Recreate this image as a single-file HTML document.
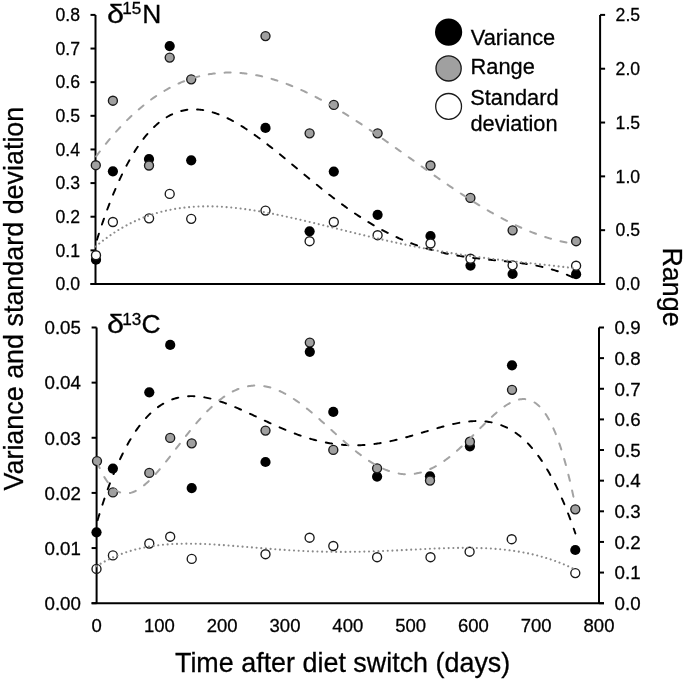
<!DOCTYPE html>
<html><head><meta charset="utf-8"><style>
html,body{margin:0;padding:0;background:#fff;}
body{width:685px;height:682px;overflow:hidden;}
svg{display:block;filter:grayscale(1);font-family:"Liberation Sans",sans-serif;fill:#000;}
svg text{fill:#000;stroke:#000;stroke-width:0.28px;}
</style></head><body>
<svg width="685" height="682" viewBox="0 0 685 682">
<rect width="685" height="682" fill="#fff"/>
<path d="M95.5,14.9 V284.0 M600.1,14.9 V284.0 M90.5,284.0 H605.1" stroke="#000" stroke-width="2" fill="none"/>
<path d="M90.5,284.00 H95.5" stroke="#000" stroke-width="2"/>
<text transform="translate(80.0,290.29) scale(1,1.0)" text-anchor="end" font-size="17.6">0.0</text>
<path d="M90.5,250.36 H95.5" stroke="#000" stroke-width="2"/>
<text transform="translate(80.0,256.65) scale(1,1.0)" text-anchor="end" font-size="17.6">0.1</text>
<path d="M90.5,216.72 H95.5" stroke="#000" stroke-width="2"/>
<text transform="translate(80.0,223.02) scale(1,1.0)" text-anchor="end" font-size="17.6">0.2</text>
<path d="M90.5,183.09 H95.5" stroke="#000" stroke-width="2"/>
<text transform="translate(80.0,189.38) scale(1,1.0)" text-anchor="end" font-size="17.6">0.3</text>
<path d="M90.5,149.45 H95.5" stroke="#000" stroke-width="2"/>
<text transform="translate(80.0,155.74) scale(1,1.0)" text-anchor="end" font-size="17.6">0.4</text>
<path d="M90.5,115.81 H95.5" stroke="#000" stroke-width="2"/>
<text transform="translate(80.0,122.10) scale(1,1.0)" text-anchor="end" font-size="17.6">0.5</text>
<path d="M90.5,82.17 H95.5" stroke="#000" stroke-width="2"/>
<text transform="translate(80.0,88.47) scale(1,1.0)" text-anchor="end" font-size="17.6">0.6</text>
<path d="M90.5,48.54 H95.5" stroke="#000" stroke-width="2"/>
<text transform="translate(80.0,54.83) scale(1,1.0)" text-anchor="end" font-size="17.6">0.7</text>
<path d="M90.5,14.90 H95.5" stroke="#000" stroke-width="2"/>
<text transform="translate(80.0,21.19) scale(1,1.0)" text-anchor="end" font-size="17.6">0.8</text>
<path d="M600.1,284.00 H605.1" stroke="#000" stroke-width="2"/>
<text transform="translate(615.6,290.29) scale(1,1.0)" font-size="17.6">0.0</text>
<path d="M600.1,230.18 H605.1" stroke="#000" stroke-width="2"/>
<text transform="translate(615.6,236.47) scale(1,1.0)" font-size="17.6">0.5</text>
<path d="M600.1,176.36 H605.1" stroke="#000" stroke-width="2"/>
<text transform="translate(615.6,182.65) scale(1,1.0)" font-size="17.6">1.0</text>
<path d="M600.1,122.54 H605.1" stroke="#000" stroke-width="2"/>
<text transform="translate(615.6,128.83) scale(1,1.0)" font-size="17.6">1.5</text>
<path d="M600.1,68.72 H605.1" stroke="#000" stroke-width="2"/>
<text transform="translate(615.6,75.01) scale(1,1.0)" font-size="17.6">2.0</text>
<path d="M600.1,14.90 H605.1" stroke="#000" stroke-width="2"/>
<text transform="translate(615.6,21.19) scale(1,1.0)" font-size="17.6">2.5</text>
<path d="M96.6,327.5 V603.2 M599.0,327.5 V603.2 M91.6,603.2 H604.0" stroke="#000" stroke-width="2" fill="none"/>
<path d="M91.6,603.20 H96.6" stroke="#000" stroke-width="2"/>
<text transform="translate(80.9,610.02) scale(1,1.02)" text-anchor="end" font-size="18.7">0.00</text>
<path d="M91.6,548.06 H96.6" stroke="#000" stroke-width="2"/>
<text transform="translate(80.9,554.88) scale(1,1.02)" text-anchor="end" font-size="18.7">0.01</text>
<path d="M91.6,492.92 H96.6" stroke="#000" stroke-width="2"/>
<text transform="translate(80.9,499.74) scale(1,1.02)" text-anchor="end" font-size="18.7">0.02</text>
<path d="M91.6,437.78 H96.6" stroke="#000" stroke-width="2"/>
<text transform="translate(80.9,444.60) scale(1,1.02)" text-anchor="end" font-size="18.7">0.03</text>
<path d="M91.6,382.64 H96.6" stroke="#000" stroke-width="2"/>
<text transform="translate(80.9,389.46) scale(1,1.02)" text-anchor="end" font-size="18.7">0.04</text>
<path d="M91.6,327.50 H96.6" stroke="#000" stroke-width="2"/>
<text transform="translate(80.9,334.32) scale(1,1.02)" text-anchor="end" font-size="18.7">0.05</text>
<path d="M599.0,603.20 H604.0" stroke="#000" stroke-width="2"/>
<text transform="translate(614.6,610.02) scale(1,1.02)" font-size="18.7">0.0</text>
<path d="M599.0,572.57 H604.0" stroke="#000" stroke-width="2"/>
<text transform="translate(614.6,579.39) scale(1,1.02)" font-size="18.7">0.1</text>
<path d="M599.0,541.93 H604.0" stroke="#000" stroke-width="2"/>
<text transform="translate(614.6,548.75) scale(1,1.02)" font-size="18.7">0.2</text>
<path d="M599.0,511.30 H604.0" stroke="#000" stroke-width="2"/>
<text transform="translate(614.6,518.12) scale(1,1.02)" font-size="18.7">0.3</text>
<path d="M599.0,480.67 H604.0" stroke="#000" stroke-width="2"/>
<text transform="translate(614.6,487.49) scale(1,1.02)" font-size="18.7">0.4</text>
<path d="M599.0,450.03 H604.0" stroke="#000" stroke-width="2"/>
<text transform="translate(614.6,456.85) scale(1,1.02)" font-size="18.7">0.5</text>
<path d="M599.0,419.40 H604.0" stroke="#000" stroke-width="2"/>
<text transform="translate(614.6,426.22) scale(1,1.02)" font-size="18.7">0.6</text>
<path d="M599.0,388.77 H604.0" stroke="#000" stroke-width="2"/>
<text transform="translate(614.6,395.59) scale(1,1.02)" font-size="18.7">0.7</text>
<path d="M599.0,358.13 H604.0" stroke="#000" stroke-width="2"/>
<text transform="translate(614.6,364.95) scale(1,1.02)" font-size="18.7">0.8</text>
<path d="M599.0,327.50 H604.0" stroke="#000" stroke-width="2"/>
<text transform="translate(614.6,334.32) scale(1,1.02)" font-size="18.7">0.9</text>
<text x="96.60" y="631.6" text-anchor="middle" font-size="18.5">0</text>
<text x="159.40" y="631.6" text-anchor="middle" font-size="18.5">100</text>
<text x="222.20" y="631.6" text-anchor="middle" font-size="18.5">200</text>
<text x="285.00" y="631.6" text-anchor="middle" font-size="18.5">300</text>
<text x="347.80" y="631.6" text-anchor="middle" font-size="18.5">400</text>
<text x="410.60" y="631.6" text-anchor="middle" font-size="18.5">500</text>
<text x="473.40" y="631.6" text-anchor="middle" font-size="18.5">600</text>
<text x="536.20" y="631.6" text-anchor="middle" font-size="18.5">700</text>
<text x="599.00" y="631.6" text-anchor="middle" font-size="18.5">800</text>
<circle cx="96" cy="259.7" r="5.1" fill="#000"/>
<circle cx="112.9" cy="171.3" r="5.1" fill="#000"/>
<circle cx="149.0" cy="159.1" r="5.1" fill="#000"/>
<circle cx="169.7" cy="46.1" r="5.1" fill="#000"/>
<circle cx="191.2" cy="160.3" r="5.1" fill="#000"/>
<circle cx="265.5" cy="127.9" r="5.1" fill="#000"/>
<circle cx="309.6" cy="231.3" r="5.1" fill="#000"/>
<circle cx="333.8" cy="171.6" r="5.1" fill="#000"/>
<circle cx="377.6" cy="214.8" r="5.1" fill="#000"/>
<circle cx="430.5" cy="236" r="5.1" fill="#000"/>
<circle cx="470.5" cy="265.6" r="5.1" fill="#000"/>
<circle cx="512.6" cy="274" r="5.1" fill="#000"/>
<circle cx="576.1" cy="274.2" r="5.1" fill="#000"/>
<circle cx="95.8" cy="165.2" r="4.5" fill="#a0a0a0" stroke="#1a1a1a" stroke-width="1.35"/>
<circle cx="112.9" cy="100.7" r="4.5" fill="#a0a0a0" stroke="#1a1a1a" stroke-width="1.35"/>
<circle cx="149.0" cy="165.5" r="4.5" fill="#a0a0a0" stroke="#1a1a1a" stroke-width="1.35"/>
<circle cx="169.7" cy="57.6" r="4.5" fill="#a0a0a0" stroke="#1a1a1a" stroke-width="1.35"/>
<circle cx="191.2" cy="79.3" r="4.5" fill="#a0a0a0" stroke="#1a1a1a" stroke-width="1.35"/>
<circle cx="265.5" cy="36.1" r="4.5" fill="#a0a0a0" stroke="#1a1a1a" stroke-width="1.35"/>
<circle cx="309.6" cy="133.3" r="4.5" fill="#a0a0a0" stroke="#1a1a1a" stroke-width="1.35"/>
<circle cx="333.8" cy="104.9" r="4.5" fill="#a0a0a0" stroke="#1a1a1a" stroke-width="1.35"/>
<circle cx="377.6" cy="133.3" r="4.5" fill="#a0a0a0" stroke="#1a1a1a" stroke-width="1.35"/>
<circle cx="430.5" cy="165.5" r="4.5" fill="#a0a0a0" stroke="#1a1a1a" stroke-width="1.35"/>
<circle cx="470.4" cy="197.9" r="4.5" fill="#a0a0a0" stroke="#1a1a1a" stroke-width="1.35"/>
<circle cx="512.6" cy="230.3" r="4.5" fill="#a0a0a0" stroke="#1a1a1a" stroke-width="1.35"/>
<circle cx="576.1" cy="241.2" r="4.5" fill="#a0a0a0" stroke="#1a1a1a" stroke-width="1.35"/>
<circle cx="96" cy="255.2" r="4.5" fill="#fff" stroke="#1a1a1a" stroke-width="1.35"/>
<circle cx="112.9" cy="222" r="4.5" fill="#fff" stroke="#1a1a1a" stroke-width="1.35"/>
<circle cx="149.1" cy="218.3" r="4.5" fill="#fff" stroke="#1a1a1a" stroke-width="1.35"/>
<circle cx="169.7" cy="193.9" r="4.5" fill="#fff" stroke="#1a1a1a" stroke-width="1.35"/>
<circle cx="191.2" cy="218.8" r="4.5" fill="#fff" stroke="#1a1a1a" stroke-width="1.35"/>
<circle cx="265.5" cy="210.6" r="4.5" fill="#fff" stroke="#1a1a1a" stroke-width="1.35"/>
<circle cx="309.6" cy="241.2" r="4.5" fill="#fff" stroke="#1a1a1a" stroke-width="1.35"/>
<circle cx="333.8" cy="222" r="4.5" fill="#fff" stroke="#1a1a1a" stroke-width="1.35"/>
<circle cx="377.6" cy="235.2" r="4.5" fill="#fff" stroke="#1a1a1a" stroke-width="1.35"/>
<circle cx="430.5" cy="243.5" r="4.5" fill="#fff" stroke="#1a1a1a" stroke-width="1.35"/>
<circle cx="470.5" cy="258.7" r="4.5" fill="#fff" stroke="#1a1a1a" stroke-width="1.35"/>
<circle cx="512.6" cy="265.3" r="4.5" fill="#fff" stroke="#1a1a1a" stroke-width="1.35"/>
<circle cx="576.1" cy="265.7" r="4.5" fill="#fff" stroke="#1a1a1a" stroke-width="1.35"/>
<circle cx="96.5" cy="532.3" r="5.1" fill="#000"/>
<circle cx="112.9" cy="468.6" r="5.1" fill="#000"/>
<circle cx="149.3" cy="392.3" r="5.1" fill="#000"/>
<circle cx="170.2" cy="344.9" r="5.1" fill="#000"/>
<circle cx="191.7" cy="488.1" r="5.1" fill="#000"/>
<circle cx="265.5" cy="462" r="5.1" fill="#000"/>
<circle cx="333.3" cy="411.9" r="5.1" fill="#000"/>
<circle cx="377.1" cy="476.6" r="5.1" fill="#000"/>
<circle cx="430" cy="476.3" r="5.1" fill="#000"/>
<circle cx="469.9" cy="446.3" r="5.1" fill="#000"/>
<circle cx="512" cy="365.3" r="5.1" fill="#000"/>
<circle cx="575.3" cy="550" r="5.1" fill="#000"/>
<circle cx="97" cy="461.1" r="4.5" fill="#a0a0a0" stroke="#1a1a1a" stroke-width="1.35"/>
<circle cx="112.9" cy="492.4" r="4.5" fill="#a0a0a0" stroke="#1a1a1a" stroke-width="1.35"/>
<circle cx="149.3" cy="472.9" r="4.5" fill="#a0a0a0" stroke="#1a1a1a" stroke-width="1.35"/>
<circle cx="170.2" cy="437.9" r="4.5" fill="#a0a0a0" stroke="#1a1a1a" stroke-width="1.35"/>
<circle cx="191.7" cy="443.3" r="4.5" fill="#a0a0a0" stroke="#1a1a1a" stroke-width="1.35"/>
<circle cx="265.5" cy="430.6" r="4.5" fill="#a0a0a0" stroke="#1a1a1a" stroke-width="1.35"/>
<circle cx="309.8" cy="342.6" r="4.5" fill="#a0a0a0" stroke="#1a1a1a" stroke-width="1.35"/>
<circle cx="333.3" cy="449.9" r="4.5" fill="#a0a0a0" stroke="#1a1a1a" stroke-width="1.35"/>
<circle cx="377.1" cy="468.3" r="4.5" fill="#a0a0a0" stroke="#1a1a1a" stroke-width="1.35"/>
<circle cx="430" cy="480.6" r="4.5" fill="#a0a0a0" stroke="#1a1a1a" stroke-width="1.35"/>
<circle cx="469.9" cy="441.7" r="4.5" fill="#a0a0a0" stroke="#1a1a1a" stroke-width="1.35"/>
<circle cx="512" cy="389.8" r="4.5" fill="#a0a0a0" stroke="#1a1a1a" stroke-width="1.35"/>
<circle cx="575.3" cy="509.3" r="4.5" fill="#a0a0a0" stroke="#1a1a1a" stroke-width="1.35"/>
<circle cx="309.8" cy="351.8" r="5.1" fill="#000"/>
<circle cx="96.5" cy="568.9" r="4.5" fill="none" stroke="#1a1a1a" stroke-width="1.35"/>
<circle cx="112.9" cy="555.4" r="4.5" fill="none" stroke="#1a1a1a" stroke-width="1.35"/>
<circle cx="149.3" cy="543.5" r="4.5" fill="none" stroke="#1a1a1a" stroke-width="1.35"/>
<circle cx="170.2" cy="536.7" r="4.5" fill="none" stroke="#1a1a1a" stroke-width="1.35"/>
<circle cx="191.7" cy="558.9" r="4.5" fill="none" stroke="#1a1a1a" stroke-width="1.35"/>
<circle cx="265.5" cy="554.2" r="4.5" fill="none" stroke="#1a1a1a" stroke-width="1.35"/>
<circle cx="309.6" cy="537.7" r="4.5" fill="none" stroke="#1a1a1a" stroke-width="1.35"/>
<circle cx="333.3" cy="546" r="4.5" fill="none" stroke="#1a1a1a" stroke-width="1.35"/>
<circle cx="377.1" cy="557.2" r="4.5" fill="none" stroke="#1a1a1a" stroke-width="1.35"/>
<circle cx="430.5" cy="557.2" r="4.5" fill="none" stroke="#1a1a1a" stroke-width="1.35"/>
<circle cx="469.6" cy="551.7" r="4.5" fill="none" stroke="#1a1a1a" stroke-width="1.35"/>
<circle cx="511.7" cy="539.2" r="4.5" fill="none" stroke="#1a1a1a" stroke-width="1.35"/>
<circle cx="575.3" cy="573.1" r="4.5" fill="none" stroke="#1a1a1a" stroke-width="1.35"/>
<path d="M95.60,157.11 L96.80,155.47 L98.01,153.86 L99.21,152.26 L100.42,150.68 L101.62,149.12 L102.83,147.57 L104.03,146.05 L105.23,144.54 L106.44,143.05 L107.64,141.57 L108.85,140.11 L110.05,138.67 L111.26,137.25 L112.46,135.85 L113.66,134.46 L114.87,133.09 L116.07,131.73 L117.28,130.40 L118.48,129.08 L119.69,127.77 L120.89,126.49 L122.09,125.22 L123.30,123.96 L124.50,122.73 L125.71,121.51 L126.91,120.31 L128.12,119.12 L129.32,117.95 L130.52,116.80 L131.73,115.66 L132.93,114.54 L134.14,113.44 L135.34,112.35 L136.54,111.28 L137.75,110.22 L138.95,109.18 L140.16,108.16 L141.36,107.15 L142.57,106.16 L143.77,105.18 L144.97,104.22 L146.18,103.27 L147.38,102.34 L148.59,101.43 L149.79,100.53 L151.00,99.65 L152.20,98.78 L153.40,97.93 L154.61,97.09 L155.81,96.27 L157.02,95.47 L158.22,94.68 L159.43,93.90 L160.63,93.14 L161.83,92.39 L163.04,91.66 L164.24,90.95 L165.45,90.25 L166.65,89.56 L167.86,88.89 L169.06,88.23 L170.26,87.59 L171.47,86.96 L172.67,86.34 L173.88,85.74 L175.08,85.16 L176.29,84.59 L177.49,84.03 L178.69,83.49 L179.90,82.96 L181.10,82.44 L182.31,81.94 L183.51,81.45 L184.72,80.98 L185.92,80.52 L187.12,80.08 L188.33,79.64 L189.53,79.22 L190.74,78.82 L191.94,78.43 L193.15,78.05 L194.35,77.68 L195.55,77.33 L196.76,76.99 L197.96,76.66 L199.17,76.35 L200.37,76.05 L201.57,75.76 L202.78,75.49 L203.98,75.23 L205.19,74.98 L206.39,74.74 L207.60,74.52 L208.80,74.31 L210.00,74.11 L211.21,73.92 L212.41,73.75 L213.62,73.59 L214.82,73.44 L216.03,73.30 L217.23,73.17 L218.43,73.06 L219.64,72.96 L220.84,72.87 L222.05,72.79 L223.25,72.72 L224.46,72.67 L225.66,72.62 L226.86,72.59 L228.07,72.57 L229.27,72.56 L230.48,72.56 L231.68,72.58 L232.89,72.60 L234.09,72.64 L235.29,72.68 L236.50,72.74 L237.70,72.81 L238.91,72.89 L240.11,72.98 L241.32,73.08 L242.52,73.19 L243.72,73.31 L244.93,73.44 L246.13,73.58 L247.34,73.74 L248.54,73.90 L249.75,74.07 L250.95,74.26 L252.15,74.45 L253.36,74.65 L254.56,74.87 L255.77,75.09 L256.97,75.32 L258.18,75.56 L259.38,75.81 L260.58,76.08 L261.79,76.35 L262.99,76.63 L264.20,76.92 L265.40,77.22 L266.61,77.52 L267.81,77.84 L269.01,78.17 L270.22,78.50 L271.42,78.84 L272.63,79.20 L273.83,79.56 L275.03,79.93 L276.24,80.31 L277.44,80.69 L278.65,81.09 L279.85,81.49 L281.06,81.90 L282.26,82.33 L283.46,82.75 L284.67,83.19 L285.87,83.63 L287.08,84.09 L288.28,84.55 L289.49,85.02 L290.69,85.49 L291.89,85.97 L293.10,86.47 L294.30,86.96 L295.51,87.47 L296.71,87.98 L297.92,88.50 L299.12,89.03 L300.32,89.57 L301.53,90.11 L302.73,90.66 L303.94,91.21 L305.14,91.77 L306.35,92.34 L307.55,92.92 L308.75,93.50 L309.96,94.09 L311.16,94.68 L312.37,95.29 L313.57,95.89 L314.78,96.51 L315.98,97.13 L317.18,97.75 L318.39,98.39 L319.59,99.02 L320.80,99.67 L322.00,100.32 L323.21,100.97 L324.41,101.63 L325.61,102.30 L326.82,102.97 L328.02,103.65 L329.23,104.33 L330.43,105.02 L331.64,105.71 L332.84,106.41 L334.04,107.11 L335.25,107.82 L336.45,108.53 L337.66,109.25 L338.86,109.97 L340.06,110.70 L341.27,111.43 L342.47,112.17 L343.68,112.91 L344.88,113.65 L346.09,114.40 L347.29,115.15 L348.49,115.91 L349.70,116.67 L350.90,117.43 L352.11,118.20 L353.31,118.97 L354.52,119.75 L355.72,120.53 L356.92,121.31 L358.13,122.10 L359.33,122.89 L360.54,123.68 L361.74,124.48 L362.95,125.28 L364.15,126.08 L365.35,126.89 L366.56,127.69 L367.76,128.51 L368.97,129.32 L370.17,130.14 L371.38,130.96 L372.58,131.78 L373.78,132.60 L374.99,133.43 L376.19,134.26 L377.40,135.09 L378.60,135.92 L379.81,136.76 L381.01,137.59 L382.21,138.43 L383.42,139.27 L384.62,140.12 L385.83,140.96 L387.03,141.81 L388.24,142.66 L389.44,143.50 L390.64,144.35 L391.85,145.21 L393.05,146.06 L394.26,146.91 L395.46,147.77 L396.67,148.62 L397.87,149.48 L399.07,150.34 L400.28,151.20 L401.48,152.06 L402.69,152.92 L403.89,153.78 L405.09,154.64 L406.30,155.50 L407.50,156.36 L408.71,157.22 L409.91,158.08 L411.12,158.94 L412.32,159.80 L413.52,160.66 L414.73,161.53 L415.93,162.39 L417.14,163.25 L418.34,164.11 L419.55,164.97 L420.75,165.83 L421.95,166.68 L423.16,167.54 L424.36,168.40 L425.57,169.25 L426.77,170.11 L427.98,170.96 L429.18,171.82 L430.38,172.67 L431.59,173.52 L432.79,174.37 L434.00,175.21 L435.20,176.06 L436.41,176.90 L437.61,177.75 L438.81,178.59 L440.02,179.43 L441.22,180.26 L442.43,181.10 L443.63,181.93 L444.84,182.76 L446.04,183.59 L447.24,184.42 L448.45,185.24 L449.65,186.07 L450.86,186.88 L452.06,187.70 L453.27,188.52 L454.47,189.33 L455.67,190.14 L456.88,190.94 L458.08,191.74 L459.29,192.54 L460.49,193.34 L461.70,194.13 L462.90,194.92 L464.10,195.71 L465.31,196.49 L466.51,197.27 L467.72,198.05 L468.92,198.82 L470.13,199.59 L471.33,200.36 L472.53,201.12 L473.74,201.87 L474.94,202.63 L476.15,203.38 L477.35,204.12 L478.55,204.86 L479.76,205.60 L480.96,206.33 L482.17,207.06 L483.37,207.78 L484.58,208.50 L485.78,209.21 L486.98,209.92 L488.19,210.62 L489.39,211.32 L490.60,212.02 L491.80,212.71 L493.01,213.39 L494.21,214.07 L495.41,214.74 L496.62,215.41 L497.82,216.07 L499.03,216.73 L500.23,217.38 L501.44,218.03 L502.64,218.67 L503.84,219.30 L505.05,219.93 L506.25,220.55 L507.46,221.17 L508.66,221.78 L509.87,222.38 L511.07,222.98 L512.27,223.57 L513.48,224.15 L514.68,224.73 L515.89,225.30 L517.09,225.87 L518.30,226.43 L519.50,226.98 L520.70,227.53 L521.91,228.06 L523.11,228.59 L524.32,229.12 L525.52,229.64 L526.73,230.14 L527.93,230.65 L529.13,231.14 L530.34,231.63 L531.54,232.11 L532.75,232.58 L533.95,233.05 L535.16,233.51 L536.36,233.95 L537.56,234.40 L538.77,234.83 L539.97,235.26 L541.18,235.67 L542.38,236.08 L543.58,236.49 L544.79,236.88 L545.99,237.26 L547.20,237.64 L548.40,238.01 L549.61,238.37 L550.81,238.72 L552.01,239.06 L553.22,239.39 L554.42,239.72 L555.63,240.03 L556.83,240.34 L558.04,240.64 L559.24,240.93 L560.44,241.21 L561.65,241.48 L562.85,241.74 L564.06,241.99 L565.26,242.23 L566.47,242.47 L567.67,242.69 L568.87,242.90 L570.08,243.11 L571.28,243.30 L572.49,243.48 L573.69,243.66 L574.90,243.82 L576.10,243.98" fill="none" stroke="#a3a3a3" stroke-width="2.0" stroke-linecap="round" stroke-dasharray="6.10 9.77" stroke-dashoffset="14.90"/>
<path d="M95.60,244.16 L96.80,240.28 L98.01,236.47 L99.21,232.74 L100.42,229.07 L101.62,225.47 L102.83,221.94 L104.03,218.48 L105.23,215.09 L106.44,211.76 L107.64,208.50 L108.85,205.31 L110.05,202.18 L111.26,199.12 L112.46,196.12 L113.66,193.18 L114.87,190.30 L116.07,187.49 L117.28,184.74 L118.48,182.04 L119.69,179.41 L120.89,176.84 L122.09,174.33 L123.30,171.87 L124.50,169.47 L125.71,167.13 L126.91,164.85 L128.12,162.62 L129.32,160.44 L130.52,158.32 L131.73,156.26 L132.93,154.24 L134.14,152.28 L135.34,150.37 L136.54,148.52 L137.75,146.71 L138.95,144.96 L140.16,143.25 L141.36,141.59 L142.57,139.99 L143.77,138.43 L144.97,136.92 L146.18,135.45 L147.38,134.03 L148.59,132.66 L149.79,131.33 L151.00,130.05 L152.20,128.81 L153.40,127.62 L154.61,126.47 L155.81,125.36 L157.02,124.29 L158.22,123.27 L159.43,122.28 L160.63,121.34 L161.83,120.43 L163.04,119.57 L164.24,118.75 L165.45,117.96 L166.65,117.21 L167.86,116.50 L169.06,115.83 L170.26,115.19 L171.47,114.59 L172.67,114.02 L173.88,113.49 L175.08,112.99 L176.29,112.53 L177.49,112.10 L178.69,111.71 L179.90,111.34 L181.10,111.01 L182.31,110.71 L183.51,110.45 L184.72,110.21 L185.92,110.00 L187.12,109.82 L188.33,109.68 L189.53,109.56 L190.74,109.47 L191.94,109.41 L193.15,109.37 L194.35,109.36 L195.55,109.38 L196.76,109.43 L197.96,109.50 L199.17,109.60 L200.37,109.72 L201.57,109.87 L202.78,110.04 L203.98,110.23 L205.19,110.45 L206.39,110.69 L207.60,110.95 L208.80,111.24 L210.00,111.55 L211.21,111.88 L212.41,112.22 L213.62,112.60 L214.82,112.99 L216.03,113.40 L217.23,113.83 L218.43,114.27 L219.64,114.74 L220.84,115.23 L222.05,115.73 L223.25,116.25 L224.46,116.79 L225.66,117.34 L226.86,117.91 L228.07,118.50 L229.27,119.11 L230.48,119.72 L231.68,120.36 L232.89,121.01 L234.09,121.67 L235.29,122.34 L236.50,123.03 L237.70,123.74 L238.91,124.45 L240.11,125.18 L241.32,125.92 L242.52,126.68 L243.72,127.44 L244.93,128.22 L246.13,129.01 L247.34,129.80 L248.54,130.61 L249.75,131.43 L250.95,132.26 L252.15,133.10 L253.36,133.94 L254.56,134.80 L255.77,135.67 L256.97,136.54 L258.18,137.42 L259.38,138.31 L260.58,139.20 L261.79,140.11 L262.99,141.02 L264.20,141.93 L265.40,142.86 L266.61,143.79 L267.81,144.72 L269.01,145.66 L270.22,146.61 L271.42,147.56 L272.63,148.51 L273.83,149.47 L275.03,150.44 L276.24,151.41 L277.44,152.38 L278.65,153.35 L279.85,154.33 L281.06,155.31 L282.26,156.30 L283.46,157.29 L284.67,158.28 L285.87,159.27 L287.08,160.26 L288.28,161.26 L289.49,162.25 L290.69,163.25 L291.89,164.25 L293.10,165.25 L294.30,166.25 L295.51,167.25 L296.71,168.25 L297.92,169.25 L299.12,170.25 L300.32,171.25 L301.53,172.25 L302.73,173.25 L303.94,174.25 L305.14,175.25 L306.35,176.24 L307.55,177.24 L308.75,178.23 L309.96,179.22 L311.16,180.21 L312.37,181.19 L313.57,182.18 L314.78,183.16 L315.98,184.13 L317.18,185.11 L318.39,186.08 L319.59,187.05 L320.80,188.02 L322.00,188.98 L323.21,189.94 L324.41,190.89 L325.61,191.84 L326.82,192.79 L328.02,193.73 L329.23,194.67 L330.43,195.60 L331.64,196.53 L332.84,197.46 L334.04,198.37 L335.25,199.29 L336.45,200.20 L337.66,201.10 L338.86,202.00 L340.06,202.89 L341.27,203.78 L342.47,204.66 L343.68,205.54 L344.88,206.41 L346.09,207.27 L347.29,208.13 L348.49,208.98 L349.70,209.83 L350.90,210.67 L352.11,211.50 L353.31,212.33 L354.52,213.15 L355.72,213.96 L356.92,214.77 L358.13,215.57 L359.33,216.36 L360.54,217.15 L361.74,217.92 L362.95,218.70 L364.15,219.46 L365.35,220.22 L366.56,220.97 L367.76,221.71 L368.97,222.44 L370.17,223.17 L371.38,223.89 L372.58,224.60 L373.78,225.31 L374.99,226.01 L376.19,226.70 L377.40,227.38 L378.60,228.05 L379.81,228.72 L381.01,229.38 L382.21,230.03 L383.42,230.67 L384.62,231.30 L385.83,231.93 L387.03,232.55 L388.24,233.16 L389.44,233.76 L390.64,234.36 L391.85,234.95 L393.05,235.53 L394.26,236.10 L395.46,236.66 L396.67,237.22 L397.87,237.76 L399.07,238.30 L400.28,238.83 L401.48,239.36 L402.69,239.87 L403.89,240.38 L405.09,240.88 L406.30,241.37 L407.50,241.85 L408.71,242.33 L409.91,242.80 L411.12,243.26 L412.32,243.71 L413.52,244.16 L414.73,244.59 L415.93,245.02 L417.14,245.45 L418.34,245.86 L419.55,246.27 L420.75,246.67 L421.95,247.06 L423.16,247.44 L424.36,247.82 L425.57,248.19 L426.77,248.55 L427.98,248.91 L429.18,249.26 L430.38,249.60 L431.59,249.93 L432.79,250.26 L434.00,250.58 L435.20,250.90 L436.41,251.20 L437.61,251.50 L438.81,251.80 L440.02,252.09 L441.22,252.37 L442.43,252.64 L443.63,252.91 L444.84,253.18 L446.04,253.43 L447.24,253.69 L448.45,253.93 L449.65,254.17 L450.86,254.41 L452.06,254.63 L453.27,254.86 L454.47,255.08 L455.67,255.29 L456.88,255.50 L458.08,255.70 L459.29,255.90 L460.49,256.09 L461.70,256.28 L462.90,256.47 L464.10,256.65 L465.31,256.82 L466.51,257.00 L467.72,257.16 L468.92,257.33 L470.13,257.49 L471.33,257.65 L472.53,257.80 L473.74,257.95 L474.94,258.10 L476.15,258.25 L477.35,258.39 L478.55,258.53 L479.76,258.66 L480.96,258.80 L482.17,258.93 L483.37,259.06 L484.58,259.19 L485.78,259.32 L486.98,259.44 L488.19,259.57 L489.39,259.69 L490.60,259.81 L491.80,259.94 L493.01,260.06 L494.21,260.18 L495.41,260.30 L496.62,260.42 L497.82,260.54 L499.03,260.66 L500.23,260.78 L501.44,260.90 L502.64,261.02 L503.84,261.15 L505.05,261.27 L506.25,261.40 L507.46,261.53 L508.66,261.66 L509.87,261.79 L511.07,261.92 L512.27,262.06 L513.48,262.20 L514.68,262.34 L515.89,262.48 L517.09,262.63 L518.30,262.79 L519.50,262.94 L520.70,263.10 L521.91,263.27 L523.11,263.43 L524.32,263.61 L525.52,263.79 L526.73,263.97 L527.93,264.16 L529.13,264.35 L530.34,264.55 L531.54,264.76 L532.75,264.97 L533.95,265.19 L535.16,265.42 L536.36,265.65 L537.56,265.89 L538.77,266.14 L539.97,266.40 L541.18,266.66 L542.38,266.93 L543.58,267.22 L544.79,267.51 L545.99,267.81 L547.20,268.11 L548.40,268.43 L549.61,268.76 L550.81,269.10 L552.01,269.45 L553.22,269.81 L554.42,270.18 L555.63,270.56 L556.83,270.96 L558.04,271.36 L559.24,271.78 L560.44,272.21 L561.65,272.66 L562.85,273.11 L564.06,273.58 L565.26,274.07 L566.47,274.56 L567.67,275.07 L568.87,275.60 L570.08,276.14 L571.28,276.70 L572.49,277.27 L573.69,277.86 L574.90,278.46 L576.10,279.08" fill="none" stroke="#000" stroke-width="1.95" stroke-linecap="round" stroke-dasharray="6.25 9.69" stroke-dashoffset="11.27"/>
<path d="M95.60,246.51 L96.80,245.50 L98.01,244.50 L99.21,243.52 L100.42,242.56 L101.62,241.62 L102.83,240.69 L104.03,239.77 L105.23,238.87 L106.44,237.99 L107.64,237.12 L108.85,236.26 L110.05,235.42 L111.26,234.60 L112.46,233.79 L113.66,232.99 L114.87,232.21 L116.07,231.44 L117.28,230.69 L118.48,229.95 L119.69,229.22 L120.89,228.51 L122.09,227.81 L123.30,227.13 L124.50,226.46 L125.71,225.80 L126.91,225.15 L128.12,224.52 L129.32,223.90 L130.52,223.30 L131.73,222.70 L132.93,222.12 L134.14,221.55 L135.34,221.00 L136.54,220.45 L137.75,219.92 L138.95,219.40 L140.16,218.90 L141.36,218.40 L142.57,217.92 L143.77,217.44 L144.97,216.98 L146.18,216.53 L147.38,216.10 L148.59,215.67 L149.79,215.25 L151.00,214.85 L152.20,214.45 L153.40,214.07 L154.61,213.70 L155.81,213.34 L157.02,212.98 L158.22,212.64 L159.43,212.31 L160.63,211.99 L161.83,211.68 L163.04,211.38 L164.24,211.09 L165.45,210.80 L166.65,210.53 L167.86,210.27 L169.06,210.02 L170.26,209.77 L171.47,209.54 L172.67,209.31 L173.88,209.10 L175.08,208.89 L176.29,208.69 L177.49,208.50 L178.69,208.32 L179.90,208.15 L181.10,207.99 L182.31,207.83 L183.51,207.68 L184.72,207.54 L185.92,207.41 L187.12,207.29 L188.33,207.17 L189.53,207.07 L190.74,206.97 L191.94,206.88 L193.15,206.79 L194.35,206.71 L195.55,206.64 L196.76,206.58 L197.96,206.53 L199.17,206.48 L200.37,206.44 L201.57,206.40 L202.78,206.38 L203.98,206.36 L205.19,206.34 L206.39,206.34 L207.60,206.33 L208.80,206.34 L210.00,206.35 L211.21,206.37 L212.41,206.39 L213.62,206.43 L214.82,206.46 L216.03,206.50 L217.23,206.55 L218.43,206.61 L219.64,206.67 L220.84,206.73 L222.05,206.80 L223.25,206.88 L224.46,206.96 L225.66,207.05 L226.86,207.14 L228.07,207.24 L229.27,207.34 L230.48,207.45 L231.68,207.56 L232.89,207.67 L234.09,207.80 L235.29,207.92 L236.50,208.05 L237.70,208.19 L238.91,208.33 L240.11,208.47 L241.32,208.62 L242.52,208.77 L243.72,208.93 L244.93,209.09 L246.13,209.26 L247.34,209.43 L248.54,209.60 L249.75,209.77 L250.95,209.96 L252.15,210.14 L253.36,210.33 L254.56,210.52 L255.77,210.71 L256.97,210.91 L258.18,211.11 L259.38,211.32 L260.58,211.52 L261.79,211.74 L262.99,211.95 L264.20,212.17 L265.40,212.39 L266.61,212.61 L267.81,212.84 L269.01,213.06 L270.22,213.30 L271.42,213.53 L272.63,213.77 L273.83,214.00 L275.03,214.25 L276.24,214.49 L277.44,214.74 L278.65,214.98 L279.85,215.24 L281.06,215.49 L282.26,215.74 L283.46,216.00 L284.67,216.26 L285.87,216.52 L287.08,216.78 L288.28,217.05 L289.49,217.31 L290.69,217.58 L291.89,217.85 L293.10,218.12 L294.30,218.40 L295.51,218.67 L296.71,218.95 L297.92,219.22 L299.12,219.50 L300.32,219.78 L301.53,220.06 L302.73,220.35 L303.94,220.63 L305.14,220.92 L306.35,221.20 L307.55,221.49 L308.75,221.78 L309.96,222.06 L311.16,222.35 L312.37,222.64 L313.57,222.94 L314.78,223.23 L315.98,223.52 L317.18,223.81 L318.39,224.11 L319.59,224.40 L320.80,224.70 L322.00,224.99 L323.21,225.29 L324.41,225.58 L325.61,225.88 L326.82,226.18 L328.02,226.48 L329.23,226.77 L330.43,227.07 L331.64,227.37 L332.84,227.67 L334.04,227.96 L335.25,228.26 L336.45,228.56 L337.66,228.86 L338.86,229.16 L340.06,229.45 L341.27,229.75 L342.47,230.05 L343.68,230.35 L344.88,230.64 L346.09,230.94 L347.29,231.24 L348.49,231.53 L349.70,231.83 L350.90,232.12 L352.11,232.42 L353.31,232.71 L354.52,233.01 L355.72,233.30 L356.92,233.59 L358.13,233.88 L359.33,234.17 L360.54,234.47 L361.74,234.76 L362.95,235.05 L364.15,235.33 L365.35,235.62 L366.56,235.91 L367.76,236.20 L368.97,236.48 L370.17,236.77 L371.38,237.05 L372.58,237.33 L373.78,237.61 L374.99,237.90 L376.19,238.18 L377.40,238.45 L378.60,238.73 L379.81,239.01 L381.01,239.29 L382.21,239.56 L383.42,239.83 L384.62,240.11 L385.83,240.38 L387.03,240.65 L388.24,240.92 L389.44,241.19 L390.64,241.45 L391.85,241.72 L393.05,241.98 L394.26,242.25 L395.46,242.51 L396.67,242.77 L397.87,243.03 L399.07,243.29 L400.28,243.54 L401.48,243.80 L402.69,244.05 L403.89,244.30 L405.09,244.55 L406.30,244.80 L407.50,245.05 L408.71,245.30 L409.91,245.55 L411.12,245.79 L412.32,246.03 L413.52,246.27 L414.73,246.51 L415.93,246.75 L417.14,246.99 L418.34,247.22 L419.55,247.46 L420.75,247.69 L421.95,247.92 L423.16,248.15 L424.36,248.38 L425.57,248.60 L426.77,248.83 L427.98,249.05 L429.18,249.27 L430.38,249.49 L431.59,249.71 L432.79,249.93 L434.00,250.15 L435.20,250.36 L436.41,250.57 L437.61,250.79 L438.81,250.99 L440.02,251.20 L441.22,251.41 L442.43,251.61 L443.63,251.82 L444.84,252.02 L446.04,252.22 L447.24,252.42 L448.45,252.62 L449.65,252.81 L450.86,253.01 L452.06,253.20 L453.27,253.39 L454.47,253.58 L455.67,253.77 L456.88,253.96 L458.08,254.15 L459.29,254.33 L460.49,254.51 L461.70,254.69 L462.90,254.87 L464.10,255.05 L465.31,255.23 L466.51,255.41 L467.72,255.58 L468.92,255.75 L470.13,255.93 L471.33,256.10 L472.53,256.27 L473.74,256.43 L474.94,256.60 L476.15,256.77 L477.35,256.93 L478.55,257.09 L479.76,257.26 L480.96,257.42 L482.17,257.58 L483.37,257.73 L484.58,257.89 L485.78,258.05 L486.98,258.20 L488.19,258.35 L489.39,258.51 L490.60,258.66 L491.80,258.81 L493.01,258.96 L494.21,259.11 L495.41,259.25 L496.62,259.40 L497.82,259.55 L499.03,259.69 L500.23,259.83 L501.44,259.98 L502.64,260.12 L503.84,260.26 L505.05,260.40 L506.25,260.54 L507.46,260.68 L508.66,260.82 L509.87,260.96 L511.07,261.09 L512.27,261.23 L513.48,261.36 L514.68,261.50 L515.89,261.63 L517.09,261.77 L518.30,261.90 L519.50,262.03 L520.70,262.17 L521.91,262.30 L523.11,262.43 L524.32,262.56 L525.52,262.70 L526.73,262.83 L527.93,262.96 L529.13,263.09 L530.34,263.22 L531.54,263.35 L532.75,263.48 L533.95,263.61 L535.16,263.74 L536.36,263.87 L537.56,264.00 L538.77,264.13 L539.97,264.26 L541.18,264.39 L542.38,264.52 L543.58,264.66 L544.79,264.79 L545.99,264.92 L547.20,265.05 L548.40,265.18 L549.61,265.32 L550.81,265.45 L552.01,265.59 L553.22,265.72 L554.42,265.86 L555.63,265.99 L556.83,266.13 L558.04,266.27 L559.24,266.41 L560.44,266.55 L561.65,266.69 L562.85,266.83 L564.06,266.97 L565.26,267.11 L566.47,267.26 L567.67,267.40 L568.87,267.55 L570.08,267.70 L571.28,267.85 L572.49,268.00 L573.69,268.15 L574.90,268.30 L576.10,268.46" fill="none" stroke="#8a8a8a" stroke-width="2.1" stroke-linecap="round" stroke-dasharray="0.01 4.68"/>
<path d="M96.60,523.62 L97.80,519.56 L99.00,515.58 L100.20,511.70 L101.40,507.90 L102.60,504.19 L103.80,500.56 L105.00,497.02 L106.20,493.56 L107.40,490.17 L108.60,486.87 L109.80,483.65 L111.00,480.50 L112.20,477.43 L113.40,474.43 L114.60,471.51 L115.80,468.66 L117.00,465.88 L118.20,463.17 L119.40,460.54 L120.60,457.97 L121.80,455.47 L123.00,453.03 L124.20,450.66 L125.40,448.36 L126.60,446.12 L127.80,443.94 L129.00,441.83 L130.20,439.77 L131.40,437.78 L132.60,435.84 L133.80,433.96 L135.00,432.14 L136.20,430.38 L137.40,428.67 L138.60,427.01 L139.80,425.41 L141.00,423.86 L142.20,422.37 L143.40,420.92 L144.60,419.52 L145.80,418.18 L147.00,416.88 L148.20,415.63 L149.40,414.43 L150.60,413.27 L151.80,412.16 L153.00,411.09 L154.20,410.06 L155.40,409.08 L156.60,408.14 L157.80,407.25 L159.00,406.39 L160.20,405.57 L161.40,404.80 L162.60,404.06 L163.80,403.36 L165.00,402.69 L166.20,402.06 L167.40,401.47 L168.60,400.91 L169.80,400.39 L171.00,399.90 L172.20,399.45 L173.40,399.02 L174.60,398.63 L175.80,398.27 L177.00,397.94 L178.20,397.64 L179.40,397.37 L180.60,397.13 L181.80,396.91 L183.00,396.72 L184.20,396.56 L185.40,396.43 L186.60,396.32 L187.80,396.23 L189.00,396.17 L190.20,396.14 L191.40,396.13 L192.60,396.14 L193.80,396.17 L195.00,396.22 L196.20,396.30 L197.40,396.39 L198.60,396.51 L199.80,396.65 L201.00,396.80 L202.20,396.97 L203.40,397.16 L204.60,397.37 L205.80,397.60 L207.00,397.84 L208.20,398.10 L209.40,398.37 L210.60,398.66 L211.80,398.96 L213.00,399.28 L214.20,399.61 L215.40,399.96 L216.60,400.32 L217.80,400.69 L219.00,401.07 L220.20,401.46 L221.40,401.86 L222.60,402.28 L223.80,402.70 L225.00,403.14 L226.20,403.58 L227.40,404.04 L228.60,404.50 L229.80,404.97 L231.00,405.45 L232.20,405.93 L233.40,406.43 L234.60,406.93 L235.80,407.43 L237.00,407.95 L238.20,408.46 L239.40,408.99 L240.60,409.51 L241.80,410.05 L243.00,410.58 L244.20,411.12 L245.40,411.67 L246.60,412.21 L247.80,412.76 L249.00,413.32 L250.20,413.87 L251.40,414.43 L252.60,414.99 L253.80,415.55 L255.00,416.11 L256.20,416.67 L257.40,417.23 L258.60,417.79 L259.80,418.36 L261.00,418.92 L262.20,419.48 L263.40,420.04 L264.60,420.60 L265.80,421.15 L267.00,421.71 L268.20,422.26 L269.40,422.82 L270.60,423.36 L271.80,423.91 L273.00,424.45 L274.20,424.99 L275.40,425.53 L276.60,426.06 L277.80,426.59 L279.00,427.12 L280.20,427.64 L281.40,428.16 L282.60,428.67 L283.80,429.17 L285.00,429.68 L286.20,430.17 L287.40,430.66 L288.60,431.15 L289.80,431.63 L291.00,432.10 L292.20,432.57 L293.40,433.03 L294.60,433.48 L295.80,433.93 L297.00,434.37 L298.20,434.80 L299.40,435.23 L300.60,435.65 L301.80,436.06 L303.00,436.46 L304.20,436.86 L305.40,437.25 L306.60,437.63 L307.80,438.00 L309.00,438.36 L310.20,438.72 L311.40,439.07 L312.60,439.40 L313.80,439.73 L315.00,440.05 L316.20,440.37 L317.40,440.67 L318.60,440.96 L319.80,441.25 L321.00,441.52 L322.20,441.79 L323.40,442.05 L324.60,442.30 L325.80,442.53 L327.00,442.76 L328.20,442.98 L329.40,443.19 L330.60,443.39 L331.80,443.58 L333.00,443.76 L334.20,443.93 L335.40,444.09 L336.60,444.24 L337.80,444.38 L339.00,444.51 L340.20,444.63 L341.40,444.74 L342.60,444.84 L343.80,444.94 L345.00,445.02 L346.20,445.09 L347.40,445.15 L348.60,445.20 L349.80,445.24 L351.00,445.27 L352.20,445.29 L353.40,445.30 L354.60,445.31 L355.80,445.30 L357.00,445.28 L358.20,445.25 L359.40,445.21 L360.60,445.17 L361.80,445.11 L363.00,445.05 L364.20,444.97 L365.40,444.89 L366.60,444.79 L367.80,444.69 L369.00,444.58 L370.20,444.46 L371.40,444.33 L372.60,444.19 L373.80,444.04 L375.00,443.89 L376.20,443.72 L377.40,443.55 L378.60,443.37 L379.80,443.18 L381.00,442.98 L382.20,442.78 L383.40,442.57 L384.60,442.35 L385.80,442.12 L387.00,441.89 L388.20,441.64 L389.40,441.40 L390.60,441.14 L391.80,440.88 L393.00,440.61 L394.20,440.33 L395.40,440.05 L396.60,439.77 L397.80,439.47 L399.00,439.18 L400.20,438.87 L401.40,438.56 L402.60,438.25 L403.80,437.93 L405.00,437.61 L406.20,437.28 L407.40,436.95 L408.60,436.62 L409.80,436.28 L411.00,435.94 L412.20,435.59 L413.40,435.25 L414.60,434.90 L415.80,434.54 L417.00,434.19 L418.20,433.83 L419.40,433.48 L420.60,433.12 L421.80,432.76 L423.00,432.40 L424.20,432.04 L425.40,431.67 L426.60,431.31 L427.80,430.95 L429.00,430.59 L430.20,430.24 L431.40,429.88 L432.60,429.52 L433.80,429.17 L435.00,428.82 L436.20,428.47 L437.40,428.13 L438.60,427.79 L439.80,427.45 L441.00,427.12 L442.20,426.79 L443.40,426.47 L444.60,426.15 L445.80,425.84 L447.00,425.53 L448.20,425.23 L449.40,424.94 L450.60,424.65 L451.80,424.37 L453.00,424.10 L454.20,423.84 L455.40,423.59 L456.60,423.34 L457.80,423.11 L459.00,422.89 L460.20,422.67 L461.40,422.47 L462.60,422.28 L463.80,422.10 L465.00,421.93 L466.20,421.78 L467.40,421.64 L468.60,421.51 L469.80,421.40 L471.00,421.30 L472.20,421.22 L473.40,421.15 L474.60,421.10 L475.80,421.06 L477.00,421.05 L478.20,421.05 L479.40,421.06 L480.60,421.10 L481.80,421.16 L483.00,421.23 L484.20,421.33 L485.40,421.44 L486.60,421.58 L487.80,421.74 L489.00,421.92 L490.20,422.12 L491.40,422.35 L492.60,422.60 L493.80,422.88 L495.00,423.18 L496.20,423.50 L497.40,423.86 L498.60,424.23 L499.80,424.64 L501.00,425.08 L502.20,425.54 L503.40,426.03 L504.60,426.55 L505.80,427.10 L507.00,427.69 L508.20,428.30 L509.40,428.95 L510.60,429.63 L511.80,430.34 L513.00,431.09 L514.20,431.87 L515.40,432.68 L516.60,433.54 L517.80,434.43 L519.00,435.35 L520.20,436.32 L521.40,437.32 L522.60,438.36 L523.80,439.44 L525.00,440.56 L526.20,441.72 L527.40,442.93 L528.60,444.18 L529.80,445.47 L531.00,446.80 L532.20,448.18 L533.40,449.60 L534.60,451.07 L535.80,452.59 L537.00,454.15 L538.20,455.76 L539.40,457.42 L540.60,459.13 L541.80,460.89 L543.00,462.70 L544.20,464.56 L545.40,466.48 L546.60,468.44 L547.80,470.46 L549.00,472.54 L550.20,474.67 L551.40,476.86 L552.60,479.10 L553.80,481.40 L555.00,483.76 L556.20,486.17 L557.40,488.65 L558.60,491.19 L559.80,493.78 L561.00,496.44 L562.20,499.17 L563.40,501.95 L564.60,504.80 L565.80,507.72 L567.00,510.70 L568.20,513.74 L569.40,516.86 L570.60,520.04 L571.80,523.29 L573.00,526.61 L574.20,530.00 L575.40,533.46" fill="none" stroke="#000" stroke-width="1.95" stroke-linecap="round" stroke-dasharray="6.35 9.91" stroke-dashoffset="12.66"/>
<path d="M96.60,461.03 L97.80,463.93 L99.00,466.68 L100.20,469.27 L101.40,471.71 L102.60,473.99 L103.80,476.13 L105.00,478.13 L106.20,479.99 L107.40,481.71 L108.60,483.30 L109.80,484.76 L111.00,486.09 L112.20,487.31 L113.40,488.40 L114.60,489.38 L115.80,490.25 L117.00,491.00 L118.20,491.65 L119.40,492.20 L120.60,492.65 L121.80,493.00 L123.00,493.26 L124.20,493.42 L125.40,493.50 L126.60,493.49 L127.80,493.40 L129.00,493.22 L130.20,492.97 L131.40,492.65 L132.60,492.25 L133.80,491.79 L135.00,491.26 L136.20,490.66 L137.40,490.00 L138.60,489.28 L139.80,488.51 L141.00,487.68 L142.20,486.79 L143.40,485.86 L144.60,484.88 L145.80,483.85 L147.00,482.78 L148.20,481.67 L149.40,480.52 L150.60,479.33 L151.80,478.11 L153.00,476.85 L154.20,475.56 L155.40,474.24 L156.60,472.90 L157.80,471.53 L159.00,470.13 L160.20,468.71 L161.40,467.28 L162.60,465.82 L163.80,464.35 L165.00,462.86 L166.20,461.35 L167.40,459.84 L168.60,458.31 L169.80,456.78 L171.00,455.24 L172.20,453.69 L173.40,452.13 L174.60,450.58 L175.80,449.02 L177.00,447.46 L178.20,445.90 L179.40,444.34 L180.60,442.79 L181.80,441.24 L183.00,439.69 L184.20,438.15 L185.40,436.62 L186.60,435.10 L187.80,433.59 L189.00,432.09 L190.20,430.60 L191.40,429.12 L192.60,427.66 L193.80,426.21 L195.00,424.78 L196.20,423.36 L197.40,421.97 L198.60,420.59 L199.80,419.22 L201.00,417.88 L202.20,416.56 L203.40,415.26 L204.60,413.98 L205.80,412.72 L207.00,411.49 L208.20,410.28 L209.40,409.10 L210.60,407.94 L211.80,406.80 L213.00,405.69 L214.20,404.61 L215.40,403.55 L216.60,402.52 L217.80,401.52 L219.00,400.55 L220.20,399.60 L221.40,398.69 L222.60,397.80 L223.80,396.94 L225.00,396.12 L226.20,395.32 L227.40,394.55 L228.60,393.81 L229.80,393.11 L231.00,392.43 L232.20,391.79 L233.40,391.18 L234.60,390.59 L235.80,390.04 L237.00,389.53 L238.20,389.04 L239.40,388.58 L240.60,388.16 L241.80,387.77 L243.00,387.41 L244.20,387.08 L245.40,386.78 L246.60,386.52 L247.80,386.28 L249.00,386.08 L250.20,385.91 L251.40,385.77 L252.60,385.66 L253.80,385.59 L255.00,385.54 L256.20,385.53 L257.40,385.54 L258.60,385.59 L259.80,385.66 L261.00,385.77 L262.20,385.90 L263.40,386.06 L264.60,386.26 L265.80,386.48 L267.00,386.73 L268.20,387.01 L269.40,387.32 L270.60,387.65 L271.80,388.01 L273.00,388.40 L274.20,388.81 L275.40,389.25 L276.60,389.72 L277.80,390.21 L279.00,390.73 L280.20,391.27 L281.40,391.83 L282.60,392.42 L283.80,393.03 L285.00,393.66 L286.20,394.32 L287.40,395.00 L288.60,395.70 L289.80,396.42 L291.00,397.16 L292.20,397.92 L293.40,398.70 L294.60,399.49 L295.80,400.31 L297.00,401.14 L298.20,401.99 L299.40,402.86 L300.60,403.74 L301.80,404.64 L303.00,405.55 L304.20,406.48 L305.40,407.42 L306.60,408.38 L307.80,409.34 L309.00,410.32 L310.20,411.31 L311.40,412.31 L312.60,413.32 L313.80,414.34 L315.00,415.37 L316.20,416.41 L317.40,417.45 L318.60,418.51 L319.80,419.56 L321.00,420.63 L322.20,421.70 L323.40,422.77 L324.60,423.85 L325.80,424.93 L327.00,426.02 L328.20,427.10 L329.40,428.19 L330.60,429.28 L331.80,430.36 L333.00,431.45 L334.20,432.54 L335.40,433.62 L336.60,434.71 L337.80,435.79 L339.00,436.86 L340.20,437.93 L341.40,439.00 L342.60,440.06 L343.80,441.12 L345.00,442.17 L346.20,443.21 L347.40,444.24 L348.60,445.27 L349.80,446.28 L351.00,447.29 L352.20,448.29 L353.40,449.27 L354.60,450.25 L355.80,451.21 L357.00,452.16 L358.20,453.09 L359.40,454.01 L360.60,454.92 L361.80,455.82 L363.00,456.69 L364.20,457.56 L365.40,458.40 L366.60,459.23 L367.80,460.04 L369.00,460.84 L370.20,461.61 L371.40,462.37 L372.60,463.11 L373.80,463.82 L375.00,464.52 L376.20,465.20 L377.40,465.85 L378.60,466.48 L379.80,467.10 L381.00,467.69 L382.20,468.25 L383.40,468.79 L384.60,469.31 L385.80,469.81 L387.00,470.28 L388.20,470.73 L389.40,471.15 L390.60,471.54 L391.80,471.91 L393.00,472.26 L394.20,472.57 L395.40,472.87 L396.60,473.13 L397.80,473.37 L399.00,473.58 L400.20,473.76 L401.40,473.91 L402.60,474.04 L403.80,474.14 L405.00,474.21 L406.20,474.25 L407.40,474.27 L408.60,474.25 L409.80,474.21 L411.00,474.14 L412.20,474.04 L413.40,473.91 L414.60,473.75 L415.80,473.56 L417.00,473.34 L418.20,473.10 L419.40,472.82 L420.60,472.52 L421.80,472.19 L423.00,471.83 L424.20,471.44 L425.40,471.02 L426.60,470.57 L427.80,470.10 L429.00,469.60 L430.20,469.07 L431.40,468.51 L432.60,467.93 L433.80,467.31 L435.00,466.68 L436.20,466.01 L437.40,465.32 L438.60,464.60 L439.80,463.86 L441.00,463.10 L442.20,462.31 L443.40,461.49 L444.60,460.65 L445.80,459.79 L447.00,458.90 L448.20,458.00 L449.40,457.07 L450.60,456.12 L451.80,455.15 L453.00,454.16 L454.20,453.16 L455.40,452.13 L456.60,451.08 L457.80,450.02 L459.00,448.95 L460.20,447.85 L461.40,446.75 L462.60,445.63 L463.80,444.49 L465.00,443.35 L466.20,442.19 L467.40,441.03 L468.60,439.85 L469.80,438.67 L471.00,437.47 L472.20,436.28 L473.40,435.08 L474.60,433.87 L475.80,432.66 L477.00,431.45 L478.20,430.24 L479.40,429.03 L480.60,427.82 L481.80,426.62 L483.00,425.42 L484.20,424.23 L485.40,423.04 L486.60,421.87 L487.80,420.70 L489.00,419.55 L490.20,418.40 L491.40,417.28 L492.60,416.17 L493.80,415.08 L495.00,414.00 L496.20,412.95 L497.40,411.93 L498.60,410.92 L499.80,409.95 L501.00,409.00 L502.20,408.08 L503.40,407.20 L504.60,406.35 L505.80,405.53 L507.00,404.76 L508.20,404.02 L509.40,403.32 L510.60,402.67 L511.80,402.07 L513.00,401.51 L514.20,401.01 L515.40,400.55 L516.60,400.15 L517.80,399.81 L519.00,399.53 L520.20,399.32 L521.40,399.16 L522.60,399.08 L523.80,399.06 L525.00,399.11 L526.20,399.24 L527.40,399.45 L528.60,399.74 L529.80,400.11 L531.00,400.56 L532.20,401.10 L533.40,401.74 L534.60,402.47 L535.80,403.29 L537.00,404.22 L538.20,405.24 L539.40,406.38 L540.60,407.62 L541.80,408.97 L543.00,410.44 L544.20,412.03 L545.40,413.73 L546.60,415.57 L547.80,417.53 L549.00,419.62 L550.20,421.85 L551.40,424.21 L552.60,426.72 L553.80,429.37 L555.00,432.17 L556.20,435.13 L557.40,438.24 L558.60,441.51 L559.80,444.94 L561.00,448.54 L562.20,452.32 L563.40,456.27 L564.60,460.39 L565.80,464.70 L567.00,469.20 L568.20,473.89 L569.40,478.78 L570.60,483.86 L571.80,489.15 L573.00,494.65 L574.20,500.36 L575.40,506.29" fill="none" stroke="#a3a3a3" stroke-width="2.0" stroke-linecap="round" stroke-dasharray="6.30 9.94" stroke-dashoffset="14.73"/>
<path d="M96.60,566.13 L97.80,565.40 L99.00,564.68 L100.20,563.97 L101.40,563.28 L102.60,562.61 L103.80,561.95 L105.00,561.31 L106.20,560.68 L107.40,560.07 L108.60,559.47 L109.80,558.89 L111.00,558.32 L112.20,557.76 L113.40,557.22 L114.60,556.70 L115.80,556.18 L117.00,555.68 L118.20,555.19 L119.40,554.72 L120.60,554.26 L121.80,553.81 L123.00,553.37 L124.20,552.95 L125.40,552.53 L126.60,552.13 L127.80,551.75 L129.00,551.37 L130.20,551.00 L131.40,550.65 L132.60,550.30 L133.80,549.97 L135.00,549.65 L136.20,549.33 L137.40,549.03 L138.60,548.74 L139.80,548.46 L141.00,548.19 L142.20,547.93 L143.40,547.67 L144.60,547.43 L145.80,547.20 L147.00,546.97 L148.20,546.75 L149.40,546.55 L150.60,546.35 L151.80,546.16 L153.00,545.98 L154.20,545.80 L155.40,545.64 L156.60,545.48 L157.80,545.33 L159.00,545.18 L160.20,545.05 L161.40,544.92 L162.60,544.80 L163.80,544.68 L165.00,544.58 L166.20,544.48 L167.40,544.38 L168.60,544.29 L169.80,544.21 L171.00,544.14 L172.20,544.07 L173.40,544.01 L174.60,543.95 L175.80,543.90 L177.00,543.85 L178.20,543.81 L179.40,543.77 L180.60,543.74 L181.80,543.72 L183.00,543.70 L184.20,543.68 L185.40,543.67 L186.60,543.66 L187.80,543.66 L189.00,543.67 L190.20,543.67 L191.40,543.68 L192.60,543.70 L193.80,543.72 L195.00,543.74 L196.20,543.77 L197.40,543.80 L198.60,543.83 L199.80,543.87 L201.00,543.91 L202.20,543.95 L203.40,543.99 L204.60,544.04 L205.80,544.10 L207.00,544.15 L208.20,544.21 L209.40,544.27 L210.60,544.33 L211.80,544.40 L213.00,544.46 L214.20,544.53 L215.40,544.61 L216.60,544.68 L217.80,544.75 L219.00,544.83 L220.20,544.91 L221.40,544.99 L222.60,545.08 L223.80,545.16 L225.00,545.25 L226.20,545.33 L227.40,545.42 L228.60,545.51 L229.80,545.60 L231.00,545.69 L232.20,545.79 L233.40,545.88 L234.60,545.98 L235.80,546.07 L237.00,546.17 L238.20,546.26 L239.40,546.36 L240.60,546.46 L241.80,546.56 L243.00,546.66 L244.20,546.76 L245.40,546.86 L246.60,546.96 L247.80,547.06 L249.00,547.16 L250.20,547.26 L251.40,547.36 L252.60,547.46 L253.80,547.55 L255.00,547.65 L256.20,547.75 L257.40,547.85 L258.60,547.95 L259.80,548.05 L261.00,548.15 L262.20,548.24 L263.40,548.34 L264.60,548.44 L265.80,548.53 L267.00,548.63 L268.20,548.72 L269.40,548.81 L270.60,548.91 L271.80,549.00 L273.00,549.09 L274.20,549.18 L275.40,549.27 L276.60,549.35 L277.80,549.44 L279.00,549.52 L280.20,549.61 L281.40,549.69 L282.60,549.77 L283.80,549.85 L285.00,549.93 L286.20,550.01 L287.40,550.09 L288.60,550.16 L289.80,550.24 L291.00,550.31 L292.20,550.38 L293.40,550.45 L294.60,550.52 L295.80,550.59 L297.00,550.65 L298.20,550.72 L299.40,550.78 L300.60,550.84 L301.80,550.90 L303.00,550.96 L304.20,551.01 L305.40,551.07 L306.60,551.12 L307.80,551.17 L309.00,551.22 L310.20,551.27 L311.40,551.31 L312.60,551.36 L313.80,551.40 L315.00,551.44 L316.20,551.48 L317.40,551.52 L318.60,551.55 L319.80,551.58 L321.00,551.62 L322.20,551.65 L323.40,551.67 L324.60,551.70 L325.80,551.73 L327.00,551.75 L328.20,551.77 L329.40,551.79 L330.60,551.81 L331.80,551.82 L333.00,551.84 L334.20,551.85 L335.40,551.86 L336.60,551.87 L337.80,551.87 L339.00,551.88 L340.20,551.88 L341.40,551.88 L342.60,551.88 L343.80,551.88 L345.00,551.88 L346.20,551.87 L347.40,551.87 L348.60,551.86 L349.80,551.85 L351.00,551.84 L352.20,551.82 L353.40,551.81 L354.60,551.79 L355.80,551.77 L357.00,551.75 L358.20,551.73 L359.40,551.71 L360.60,551.69 L361.80,551.66 L363.00,551.63 L364.20,551.60 L365.40,551.57 L366.60,551.54 L367.80,551.51 L369.00,551.47 L370.20,551.44 L371.40,551.40 L372.60,551.36 L373.80,551.32 L375.00,551.28 L376.20,551.24 L377.40,551.20 L378.60,551.16 L379.80,551.11 L381.00,551.07 L382.20,551.02 L383.40,550.97 L384.60,550.92 L385.80,550.87 L387.00,550.82 L388.20,550.77 L389.40,550.72 L390.60,550.66 L391.80,550.61 L393.00,550.55 L394.20,550.50 L395.40,550.44 L396.60,550.39 L397.80,550.33 L399.00,550.27 L400.20,550.22 L401.40,550.16 L402.60,550.10 L403.80,550.04 L405.00,549.98 L406.20,549.92 L407.40,549.86 L408.60,549.80 L409.80,549.74 L411.00,549.68 L412.20,549.62 L413.40,549.56 L414.60,549.50 L415.80,549.44 L417.00,549.38 L418.20,549.32 L419.40,549.27 L420.60,549.21 L421.80,549.15 L423.00,549.09 L424.20,549.03 L425.40,548.98 L426.60,548.92 L427.80,548.87 L429.00,548.81 L430.20,548.76 L431.40,548.71 L432.60,548.66 L433.80,548.60 L435.00,548.56 L436.20,548.51 L437.40,548.46 L438.60,548.41 L439.80,548.37 L441.00,548.32 L442.20,548.28 L443.40,548.24 L444.60,548.20 L445.80,548.16 L447.00,548.13 L448.20,548.09 L449.40,548.06 L450.60,548.03 L451.80,548.00 L453.00,547.98 L454.20,547.95 L455.40,547.93 L456.60,547.91 L457.80,547.89 L459.00,547.87 L460.20,547.86 L461.40,547.85 L462.60,547.84 L463.80,547.83 L465.00,547.83 L466.20,547.83 L467.40,547.83 L468.60,547.84 L469.80,547.85 L471.00,547.86 L472.20,547.87 L473.40,547.89 L474.60,547.91 L475.80,547.93 L477.00,547.96 L478.20,547.99 L479.40,548.03 L480.60,548.07 L481.80,548.11 L483.00,548.15 L484.20,548.20 L485.40,548.26 L486.60,548.31 L487.80,548.37 L489.00,548.44 L490.20,548.51 L491.40,548.58 L492.60,548.66 L493.80,548.75 L495.00,548.83 L496.20,548.93 L497.40,549.02 L498.60,549.13 L499.80,549.23 L501.00,549.35 L502.20,549.46 L503.40,549.58 L504.60,549.71 L505.80,549.84 L507.00,549.98 L508.20,550.13 L509.40,550.28 L510.60,550.43 L511.80,550.59 L513.00,550.76 L514.20,550.93 L515.40,551.11 L516.60,551.29 L517.80,551.48 L519.00,551.68 L520.20,551.88 L521.40,552.09 L522.60,552.31 L523.80,552.53 L525.00,552.76 L526.20,553.00 L527.40,553.24 L528.60,553.49 L529.80,553.75 L531.00,554.02 L532.20,554.29 L533.40,554.57 L534.60,554.85 L535.80,555.15 L537.00,555.45 L538.20,555.76 L539.40,556.08 L540.60,556.40 L541.80,556.74 L543.00,557.08 L544.20,557.43 L545.40,557.79 L546.60,558.15 L547.80,558.53 L549.00,558.91 L550.20,559.30 L551.40,559.70 L552.60,560.11 L553.80,560.53 L555.00,560.96 L556.20,561.40 L557.40,561.84 L558.60,562.30 L559.80,562.76 L561.00,563.24 L562.20,563.72 L563.40,564.22 L564.60,564.72 L565.80,565.23 L567.00,565.76 L568.20,566.29 L569.40,566.83 L570.60,567.39 L571.80,567.95 L573.00,568.53 L574.20,569.11 L575.40,569.71" fill="none" stroke="#8a8a8a" stroke-width="2.1" stroke-linecap="round" stroke-dasharray="0.01 4.68"/>
<text transform="translate(107,22.7) scale(1.16,1)" font-size="26.4">δ</text>
<text x="122.3" y="14.30" font-size="16.2" transform="translate(122.3,0) scale(1.06,1) translate(-122.3,0)">15</text>
<text x="142.2" y="22.7" font-size="26.4">N</text>
<text transform="translate(107,333.1) scale(1.16,1)" font-size="26.4">δ</text>
<text x="122.3" y="324.70" font-size="16.2" transform="translate(122.3,0) scale(1.06,1) translate(-122.3,0)">13</text>
<text x="141.6" y="333.1" font-size="26.4">C</text>
<circle cx="448.6" cy="32.1" r="13.6" fill="#000"/>
<circle cx="448.6" cy="68.4" r="12.6" fill="#a0a0a0" stroke="#1a1a1a" stroke-width="1.3"/>
<circle cx="448.6" cy="106.4" r="12.9" fill="#fff" stroke="#1a1a1a" stroke-width="1.3"/>
<text transform="translate(470.8,45.2) scale(1,1.02)" font-size="21.8">Variance</text>
<text transform="translate(470.6,74.0) scale(1,1.02)" font-size="21.8">Range</text>
<text transform="translate(470.2,104.7) scale(1,1.02)" font-size="21.8">Standard</text>
<text transform="translate(470.4,130.9) scale(1,1.02)" font-size="21.8">deviation</text>
<text transform="translate(23.2,298.6) rotate(-90) scale(1,1.04)" text-anchor="middle" font-size="26.9">Variance and standard deviation</text>
<text transform="translate(662.7,287.0) rotate(90) scale(1,1.04)" text-anchor="middle" font-size="26.9">Range</text>
<text transform="translate(342.6,672.0) scale(1,1.04)" text-anchor="middle" font-size="26.9">Time after diet switch (days)</text>
</svg>
</body></html>
